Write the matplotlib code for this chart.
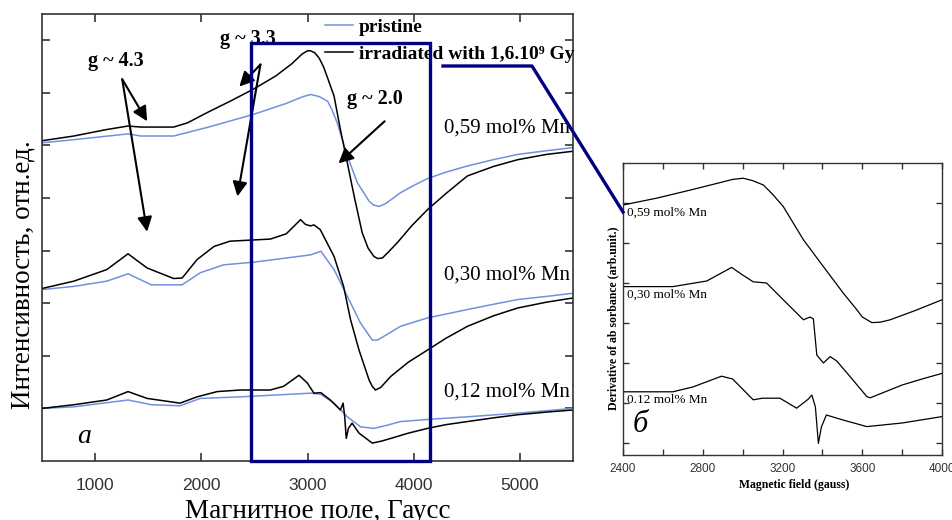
import numpy as np
import matplotlib.pyplot as plt
from matplotlib.patches import Rectangle
from matplotlib.lines import Line2D

# ---------------- main panel (a) ----------------
x059_irr = [500, 800, 1100, 1310, 1430, 1740, 1870, 2050, 2270, 2490, 2700, 2850, 2950, 3000,
            3030, 3070, 3110, 3150, 3190, 3250, 3310, 3375, 3440, 3515, 3570, 3625, 3660, 3705,
            3760, 3845, 3980, 4130, 4300, 4505, 4750, 4980, 5250, 5500]
y059_irr = [6.09, 6.18, 6.30, 6.37, 6.35, 6.35, 6.43, 6.62, 6.84, 7.07, 7.32, 7.55, 7.74, 7.80,
            7.80, 7.76, 7.66, 7.50, 7.28, 6.94, 6.30, 5.67, 5.03, 4.34, 4.05, 3.89, 3.85, 3.86,
            3.97, 4.15, 4.47, 4.78, 5.08, 5.42, 5.60, 5.73, 5.83, 5.89]
x059_pr = [500, 800, 1310, 1430, 1740, 2050, 2490, 2800, 2960, 3030, 3110, 3190, 3230, 3280,
           3375, 3470, 3580, 3620, 3675, 3740, 3875, 4000, 4130, 4300, 4505, 4750, 4980, 5250, 5500]
y059_pr = [6.05, 6.11, 6.22, 6.18, 6.18, 6.34, 6.59, 6.80, 6.93, 6.97, 6.93, 6.84, 6.68, 6.43,
           5.80, 5.29, 4.94, 4.87, 4.84, 4.90, 5.10, 5.24, 5.37, 5.49, 5.61, 5.73, 5.83, 5.90, 5.96]

x030_irr = [500, 800, 1110, 1310, 1490, 1740, 1820, 1960, 2120, 2270, 2650, 2800, 2935, 2980,
            3030, 3060, 3120, 3250, 3340, 3405, 3485, 3580, 3610, 3640, 3690, 3785, 3950, 4130,
            4300, 4505, 4750, 4980, 5250, 5500]
y030_irr = [3.28, 3.42, 3.64, 3.94, 3.67, 3.47, 3.48, 3.83, 4.08, 4.18, 4.22, 4.32, 4.59, 4.50,
            4.47, 4.49, 4.40, 3.89, 3.32, 2.69, 2.11, 1.54, 1.42, 1.35, 1.40, 1.61, 1.88, 2.11,
            2.33, 2.56, 2.76, 2.91, 3.02, 3.10]
x030_pr = [500, 800, 1110, 1310, 1530, 1820, 1990, 2210, 2490, 3030, 3125, 3250, 3375, 3500,
           3610, 3660, 3760, 3875, 4000, 4130, 4505, 4750, 4980, 5250, 5500]
y030_pr = [3.26, 3.32, 3.42, 3.56, 3.35, 3.35, 3.58, 3.73, 3.78, 3.92, 3.99, 3.64, 3.13, 2.62,
           2.30, 2.30, 2.42, 2.56, 2.64, 2.72, 2.88, 2.98, 3.07, 3.13, 3.19]

x012_irr = [500, 800, 1110, 1310, 1490, 1800, 1960, 2150, 2370, 2650, 2775, 2920, 3000, 3060,
            3125, 3215, 3310, 3335, 3350, 3365, 3385, 3420, 3485, 3610, 3700, 3785, 3950, 4130,
            4300, 4505, 4750, 4980, 5250, 5500]
y012_irr = [1.00, 1.07, 1.16, 1.32, 1.19, 1.10, 1.22, 1.32, 1.35, 1.35, 1.42, 1.63, 1.48, 1.29,
            1.30, 1.16, 0.97, 1.10, 0.85, 0.43, 0.62, 0.72, 0.53, 0.34, 0.38, 0.43, 0.53, 0.62,
            0.69, 0.75, 0.82, 0.88, 0.93, 0.97]
x012_pr = [500, 800, 1310, 1530, 1800, 1990, 2370, 3030, 3125, 3250, 3375, 3500, 3625, 3750,
           3875, 4200, 4505, 4980, 5500]
y012_pr = [1.00, 1.03, 1.16, 1.07, 1.05, 1.19, 1.22, 1.29, 1.27, 1.10, 0.84, 0.65, 0.62, 0.68,
           0.75, 0.80, 0.84, 0.91, 1.00]

main_xticks = [1000, 2000, 3000, 4000, 5000]
conc_labels = ['0,59 mol% Mn', '0,30 mol% Mn', '0,12 mol% Mn']
conc_label_y = [6.34, 3.54, 1.31]

# ---------------- inset panel (б) ----------------
xi059 = [2400, 2568, 2735, 2903, 2950, 3003, 3050, 3104, 3150, 3204, 3305, 3405, 3506, 3573,
         3600, 3648, 3690, 3740, 3870, 4000]
yi059 = [6.95, 7.12, 7.32, 7.53, 7.59, 7.62, 7.56, 7.45, 7.22, 6.91, 6.08, 5.41, 4.74, 4.33,
         4.15, 4.01, 4.02, 4.08, 4.32, 4.58]
xi030 = [2400, 2650, 2820, 2945, 3000, 3053, 3120, 3204, 3305, 3338, 3355, 3372, 3405, 3439,
         3472, 3539, 3623, 3640, 3700, 3800, 3900, 4000]
yi030 = [4.91, 4.91, 5.05, 5.39, 5.20, 5.03, 5.00, 4.58, 4.08, 4.15, 4.10, 3.20, 3.00, 3.16,
         3.05, 2.66, 2.16, 2.13, 2.25, 2.45, 2.60, 2.74]
xi012 = [2400, 2650, 2750, 2894, 2950, 3053, 3100, 3187, 3271, 3330, 3347, 3365, 3380, 3395,
         3420, 3500, 3623, 3800, 4000]
yi012 = [2.28, 2.28, 2.40, 2.67, 2.60, 2.08, 2.12, 2.12, 1.87, 2.10, 2.20, 1.90, 0.99, 1.40,
         1.70, 1.58, 1.41, 1.50, 1.66]
inset_labels = ['0,59 mol% Mn', '0,30 mol% Mn', '0.12 mol% Mn']
inset_label_y = [6.75, 4.70, 2.08]

BLUE = '#7090e0'
NAVY = '#000080'
serif = 'Liberation Serif'
sans = 'Liberation Sans'

fig = plt.figure(figsize=(9.52, 5.2), dpi=100)
W, H = 952.0, 520.0

ax = fig.add_axes([42 / W, 1 - 461 / H, 531 / W, 447 / H])
ax.plot(x059_pr, y059_pr, color=BLUE, lw=1.1, label='pristine')
ax.plot(x059_irr, y059_irr, color='black', lw=1.1, label='irradiated with 1,6.10\u2079 Gy')
ax.plot(x030_pr, y030_pr, color=BLUE, lw=1.1)
ax.plot(x030_irr, y030_irr, color='black', lw=1.1)
ax.plot(x012_pr, y012_pr, color=BLUE, lw=1.1)
ax.plot(x012_irr, y012_irr, color='black', lw=1.1)

ax.set_xlim(500, 5500)
ax.set_ylim(0, 8.5)
ax.set_xticks(main_xticks)
ax.set_yticks(range(1, 9))
ax.set_yticklabels([])
ax.tick_params(direction='in', length=6, width=1.2, top=True, right=True, pad=12,
               labelsize=12.5, labelcolor='#333333', color='#333333')
for lab in ax.get_xticklabels():
    lab.set_fontfamily(sans)
for s in ax.spines.values():
    s.set_linewidth(1.2)
    s.set_color('#333333')

ax.set_xlabel('Магнитное поле, Гаусс', fontsize=19.5, family=serif)
ax.xaxis.label.set_va('center')
ax.xaxis.set_label_coords(0.52, -0.114)
ax.set_ylabel('Интенсивность, отн.ед.', fontsize=19.5, family=serif)
ax.yaxis.label.set_va('center')
ax.yaxis.set_label_coords(-0.036, 0.416)

leg = ax.legend(loc='upper left', bbox_to_anchor=(325 / W, 1 - 18 / H),
                bbox_transform=fig.transFigure, frameon=False,
                prop={'family': serif, 'weight': 'bold', 'size': 14},
                handlelength=1.45, handletextpad=0.3, labelspacing=0.5,
                borderpad=0, borderaxespad=0)

for lab, yy in zip(conc_labels, conc_label_y):
    ax.text(4283, yy, lab, fontsize=15, family=serif, ha='left', va='center', clip_on=True)

ax.text(896, 0.46, 'а', fontsize=20, family=serif, style='italic', ha='center', va='center')

# g-factor annotations
gtxt = dict(fontsize=14.5, family=serif, weight='bold', ha='center', va='center')
ap = dict(arrowstyle='-|>', color='black', lw=1.5, mutation_scale=22, shrinkA=0, shrinkB=0)
ax.text(1198, 7.60, 'g ~ 4.3', **gtxt)
ax.annotate('', xy=(1490, 6.46), xytext=(1255, 7.26), arrowprops=ap)
ax.annotate('', xy=(1490, 4.36), xytext=(1255, 7.26), arrowprops=ap)
ax.text(2443, 8.02, 'g ~ 3.3', **gtxt)
ax.annotate('', xy=(2358, 7.12), xytext=(2557, 7.54), arrowprops=ap)
ax.annotate('', xy=(2340, 5.03), xytext=(2557, 7.54), arrowprops=ap)
ax.text(3632, 6.88, 'g ~ 2.0', **gtxt)
ax.annotate('', xy=(3292, 5.66), xytext=(3726, 6.46), arrowprops=ap)

# zoom box
ax.add_patch(Rectangle((2470, 0), 1680, 7.94, fill=False, edgecolor=NAVY, lw=2.4,
                       zorder=6, clip_on=False))

# ---------------- inset ----------------
ax2 = fig.add_axes([623 / W, 1 - 455 / H, 319 / W, 292 / H])
ax2.plot(xi059, yi059, color='black', lw=0.9)
ax2.plot(xi030, yi030, color='black', lw=0.9)
ax2.plot(xi012, yi012, color='black', lw=0.9)
ax2.set_xlim(2400, 4000)
ax2.set_ylim(0.7, 8.0)
xt = np.arange(2400, 4001, 200)
ax2.set_xticks(xt)
ax2.set_xticklabels([str(v) if v % 400 == 0 else '' for v in xt])
ax2.set_yticks(range(1, 8))
ax2.set_yticklabels([])
ax2.tick_params(direction='in', length=4, width=1, top=True, right=True, pad=6,
                labelsize=8.5, labelcolor='#333333', color='#333333')
for lab in ax2.get_xticklabels():
    lab.set_fontfamily(sans)
for s in ax2.spines.values():
    s.set_linewidth(1.0)
    s.set_color('#333333')
ax2.set_xlabel('Magnetic field (gauss)', fontsize=8.5, family=serif, weight='bold')
ax2.xaxis.label.set_va('center')
ax2.xaxis.set_label_coords(0.536, -0.103)
ax2.set_ylabel('Derivative of ab sorbance (arb.unit.)', fontsize=8.5, family=serif, weight='bold')
ax2.yaxis.label.set_va('center')
ax2.yaxis.set_label_coords(-0.031, 0.47)
for lab, yy in zip(inset_labels, inset_label_y):
    ax2.text(2420, yy, lab, fontsize=9.5, family=serif, ha='left', va='center')
ax2.text(2485, 1.45, 'б', fontsize=22, family=serif, style='italic', ha='center', va='center')

# connector from zoom box to inset
fig.add_artist(Line2D([443 / W, 532 / W, 623 / W], [1 - 66 / H, 1 - 66 / H, 1 - 212 / H],
                      color=NAVY, lw=2.4, transform=fig.transFigure))

fig.savefig('out.png', dpi=100)
